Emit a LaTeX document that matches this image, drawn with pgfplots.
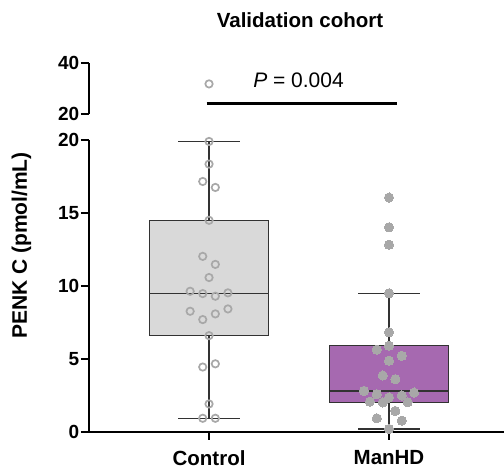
\documentclass[border=0pt]{standalone}
\usepackage{pgfplots}
\pgfplotsset{compat=1.18}
\usepgfplotslibrary{statistics}
\usepackage{fontspec}
\setmainfont{Liberation Sans}

\definecolor{boxgray}{RGB}{217,217,217}
\definecolor{manpurple}{RGB}{166,105,176}
\definecolor{ptgray}{RGB}{168,168,168}
\definecolor{linegray}{RGB}{50,50,50}

\pgfplotsset{
    brokenaxis/.style={
        scale only axis,
        width=415pt,
        xmin=0.333, xmax=2.639,
        axis y line*=left,
        axis line style={line width=2.6pt, black},
        tick style={line width=2.6pt, black},
        major tick length=8pt,
        tick align=outside,
        /pgf/number format/assume math mode=true,
        tick label style={font=\bfseries\fontsize{19}{19}\selectfont},
        yticklabel style={inner sep=1.5pt},
        clip=false
    }
}

\begin{document}
\begin{tikzpicture}
\useasboundingbox (0,0) rectangle (504pt,471pt);

% lower part, 0 to 20
\begin{axis}[
    brokenaxis,
    at={(89pt,39pt)}, anchor=south west,
    height=292pt,
    axis x line*=bottom,
    ymin=0, ymax=20,
    ytick={0,5,10,15,20},
    xtick={1,2},
    xticklabels={Control,ManHD},
    xticklabel style={font=\bfseries\fontsize{20.5}{20.5}\selectfont, inner sep=0pt, yshift=-10pt},
    boxplot/draw direction=y,
]
\addplot[boxplot prepared={
        draw position=1,
        lower whisker=0.94, lower quartile=6.6, median=9.48,
        upper quartile=14.5, upper whisker=19.9,
        box extend=0.66, whisker extend=0.34},
    draw=linegray, fill=boxgray, line width=1.4pt, solid] coordinates {};
\addplot[boxplot prepared={
        draw position=2,
        lower whisker=0.21, lower quartile=2.04, median=2.80,
        upper quartile=5.93, upper whisker=9.5,
        box extend=0.66, whisker extend=0.34},
    draw=linegray, fill=manpurple, line width=1.4pt, solid] coordinates {};

% Control
\addplot[only marks, mark=o, mark size=3.7pt, color=ptgray, line width=1.7pt]
coordinates {
    (1,19.9) (1,18.35) (0.965,17.16) (1.035,16.75) (1,14.5)
    (0.965,12.03) (1.035,11.48) (1,10.58)
    (0.895,9.64) (0.965,9.48) (1.035,9.30) (1.105,9.53)
    (0.895,8.27) (0.965,7.70) (1.035,8.09) (1.105,8.43)
    (1,6.6) (0.965,4.45) (1.035,4.67) (1,1.92)
    (0.965,0.94) (1.035,0.94)
};
% ManHD
\addplot[only marks, mark=*, mark size=4.6pt, color=ptgray, mark options={draw=ptgray, fill=ptgray, line width=0pt}]
coordinates {
    (2,16.06) (2,14.02) (2,12.83) (2,9.5) (2,6.83) (2,5.91)
    (1.932,5.64) (2.071,5.22) (2,4.88) (1.965,3.87) (2.035,3.62)
    (1.861,2.82) (1.932,2.59) (2,2.36) (2.071,2.50) (2.139,2.70)
    (1.894,2.08) (1.965,2.02) (2.104,2.04) (2.035,1.44)
    (1.932,0.94) (2.071,0.78) (2,0.21)
};
\end{axis}

% upper part, 20 to 40
\begin{axis}[
    brokenaxis,
    at={(89pt,357pt)}, anchor=south west,
    height=51pt,
    axis x line=none,
    xtick=\empty,
    ymin=20, ymax=40,
    ytick={20,40},
]
\addplot[only marks, mark=o, mark size=3.7pt, color=ptgray, line width=1.7pt]
coordinates {(1,31.8)};
\end{axis}

% significance bar
\draw[line width=2.8pt] (206.7pt,367.7pt) -- (397.3pt,367.7pt);
\node[anchor=base, inner sep=0pt, font=\fontsize{21}{21}\selectfont] at (298.5pt,383.3pt) {\textit{P} = 0.004};

% title
\node[anchor=base, inner sep=0pt, font=\bfseries\fontsize{20.5}{20.5}\selectfont] at (300pt,443pt) {Validation cohort};

% y label
\node[anchor=base, rotate=90, inner sep=0pt, font=\bfseries\fontsize{21}{21}\selectfont] at (27pt,225.5pt) {PENK C (pmol/mL)};
\end{tikzpicture}
\end{document}
